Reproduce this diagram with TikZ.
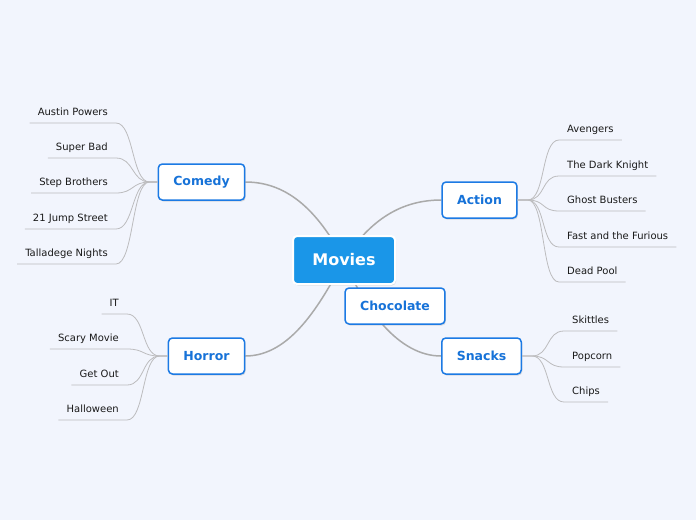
\documentclass[tikz,border=0pt]{standalone}
\usepackage{fontspec}
\setmainfont{DejaVu Sans}
\usetikzlibrary{shadows,backgrounds}

\definecolor{pagebg}{RGB}{242,245,253}
\definecolor{rootblue}{RGB}{26,150,232}
\definecolor{topicblue}{RGB}{28,122,228}
\definecolor{topictext}{RGB}{22,114,216}
\definecolor{branchgray}{RGB}{170,170,170}
\definecolor{twiggray}{RGB}{188,188,190}

\begin{document}
\begin{tikzpicture}[x=1pt, y=-1pt,
    root/.style={rectangle, rounded corners=4pt, fill=rootblue, draw=white,
      line width=2pt, minimum width=102pt, minimum height=48pt,
      font=\fontsize{16}{18}\selectfont\bfseries, text=white,
      drop shadow={opacity=0.2, shadow xshift=1pt, shadow yshift=-1.5pt}},
    topic/.style={rectangle, rounded corners=4pt, fill=white, draw=topicblue,
      line width=1.5pt, minimum height=36pt, inner xsep=15pt,
      font=\fontsize{12.5}{15}\selectfont\bfseries, text=topictext,
      drop shadow={opacity=0.25, shadow xshift=1pt, shadow yshift=-1.5pt}},
    leaf/.style={inner xsep=8pt, inner ysep=5pt, text height=7.5pt,
      text depth=2pt, font=\fontsize{10}{12}\selectfont, text=black!90},
    branch/.style={draw=branchgray, line width=1.5pt},
    twig/.style={draw=twiggray, line width=0.8pt}
  ]
  \begin{pgfonlayer}{background}
    \fill[pagebg] (0,0) rectangle (696,520);
  \end{pgfonlayer}
  \useasboundingbox (0,0) rectangle (696,520);

  % main topics
  \node[root] (movies) at (344,260) {Movies};
  \node[topic] (comedy) at (201.5,182) {Comedy};
  \node[topic] (action) at (479.5,200) {Action};
  \node[topic] (horror) at (206.5,356) {Horror};
  \node[topic] (snacks) at (481.5,356) {Snacks};
  \node[topic] (choc) at (395,306) {Chocolate};

  \coordinate (comedyhub) at ([xshift=-8pt]comedy.west);
  \coordinate (actionhub) at ([xshift=10pt]action.east);
  \coordinate (horrorhub) at ([xshift=-8pt]horror.west);
  \coordinate (snackshub) at ([xshift=10pt]snacks.east);

  \begin{pgfonlayer}{background}
    \draw[branch] (comedy.east) .. controls +(45,0) and +(-24,-45) .. (movies.center);
    \draw[branch] (action.west) .. controls +(-45,0) and +(23,-35) .. (movies.center);
    \draw[branch] (horror.east) .. controls +(45,0) and +(-24,45) .. (movies.center);
    \draw[branch] (snacks.west) .. controls +(-42,0) and +(21,50) .. (movies.center);
  \end{pgfonlayer}

  % comedy
  \foreach \n/\y/\lbl in {austin/123/Austin Powers, superbad/158/Super Bad,
      stepbro/193/Step Brothers, jump/229/21 Jump Street,
      tallad/264/Talladege Nights}
  {\node[leaf, anchor=south east] (\n) at (116,\y) {\lbl};
   \draw[twig] (\n.south west) -- (\n.south east)
     .. controls +(18,0) and +(-18,0) .. (comedyhub) -- (comedy.west);}

  % action
  \foreach \n/\y/\lbl in {avengers/140/Avengers, darkknight/176/The Dark Knight,
      ghost/211/Ghost Busters, fast/247/Fast and the Furious,
      deadpool/282/Dead Pool}
  {\node[leaf, anchor=south west] (\n) at (559,\y) {\lbl};
   \draw[twig] (\n.south east) -- (\n.south west)
     .. controls +(-18,0) and +(18,0) .. (actionhub) -- (action.east);}

  % horror
  \foreach \n/\y/\lbl in {it/314/IT, scary/349/Scary Movie,
      getout/385/Get Out, halloween/420/Halloween}
  {\node[leaf, anchor=south east] (\n) at (127,\y) {\lbl};
   \draw[twig] (\n.south west) -- (\n.south east)
     .. controls +(18,0) and +(-18,0) .. (horrorhub) -- (horror.west);}

  % snacks
  \foreach \n/\y/\lbl in {skittles/331/Skittles, popcorn/367/Popcorn,
      chips/402/Chips}
  {\node[leaf, anchor=south west] (\n) at (564,\y) {\lbl};
   \draw[twig] (\n.south east) -- (\n.south west)
     .. controls +(-18,0) and +(18,0) .. (snackshub) -- (snacks.east);}
\end{tikzpicture}
\end{document}
